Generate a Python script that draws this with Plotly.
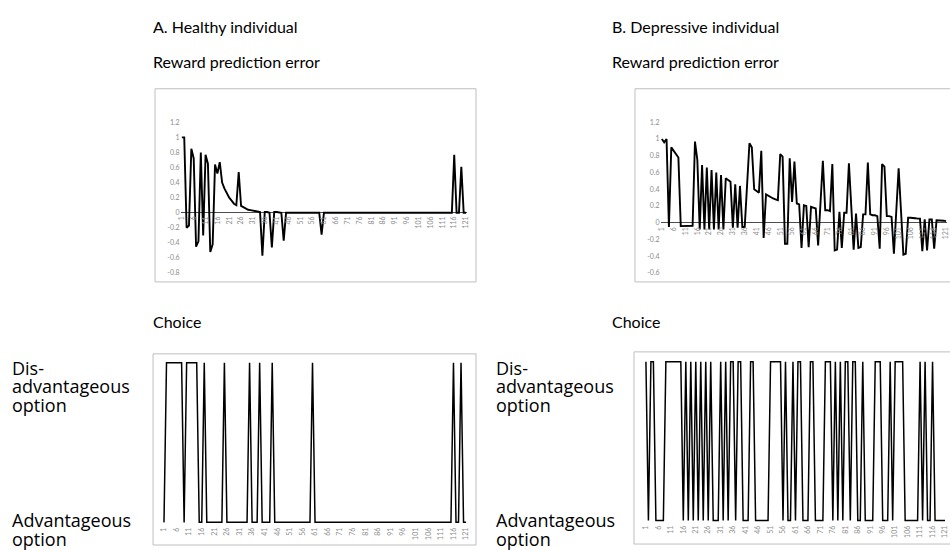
import plotly.graph_objects as go

W, H = 950, 550

trials = list(range(1, 122))
x_ticks = list(range(1, 122, 5))

healthy_rpe = [
    1.0, 1.0, -0.2, -0.17, 0.85, 0.72, -0.45, -0.38, 0.8, -0.3,
    0.77, 0.65, -0.52, -0.42, 0.64, 0.52, 0.67, 0.4, 0.32, 0.25,
    0.2, 0.16, 0.12, 0.1, 0.54, 0.09, 0.07, 0.05, 0.04, 0.035,
    0.03, 0.02, 0.015, 0.01, -0.57, 0.01, 0.01, 0.0, -0.46, 0.01,
    0.01, 0.01, 0.0, -0.37, 0.0, 0, 0, 0, 0, 0,
    0, 0, 0, 0, 0, 0, 0, 0, 0, -0.29,
    0, 0, 0, 0, 0, 0, 0, 0, 0, 0,
    0, 0, 0, 0, 0, 0, 0, 0, 0, 0,
    0, 0, 0, 0, 0, 0, 0, 0, 0, 0,
    0, 0, 0, 0, 0, 0, 0, 0, 0, 0,
    0, 0, 0, 0, 0, 0, 0, 0, 0, 0,
    0, 0, 0, 0, 0, 0.77, 0, 0, 0.61, 0,
    0,
][:121]

depressive_rpe = [
    1.0, 0.96, 1.0, -0.05, 0.9, 0.86, 0.82, 0.78, -0.04, -0.04,
    -0.04, -0.04, -0.04, -0.035, 0.97, 0.75, -0.08, 0.69, -0.08, 0.66,
    -0.08, 0.63, -0.08, 0.6, -0.08, 0.57, -0.08, 0.53, 0.51, 0.49,
    -0.06, 0.46, -0.06, 0.44, -0.05, -0.05, 0.45, 0.95, 0.9, 0.4,
    0.38, 0.36, 0.86, -0.18, 0.34, 0.32, 0.3, 0.29, 0.28, 0.27,
    0.82, 0.79, -0.25, -0.25, 0.77, 0.25, 0.73, 0.23, 0.22, -0.3,
    0.21, 0.2, -0.29, 0.19, 0.18, 0.17, -0.27, 0.2, 0.74, 0.15,
    0.15, 0.14, 0.7, -0.33, -0.32, 0.13, -0.3, 0.12, 0.12, 0.71,
    0.2, -0.32, 0.11, -0.3, -0.29, 0.1, 0.1, 0.72, 0.1, 0.09,
    0.09, 0.08, -0.31, 0.7, 0.67, 0.08, 0.08, 0.07, -0.37, 0.14,
    0.65, 0.14, -0.38, -0.37, 0.06, 0.06, 0.06, 0.055, 0.05, 0.05,
    -0.34, 0.04, -0.33, 0.04, 0.04, -0.31, 0.03, 0.03, 0.03, 0.025,
    0.02,
]

healthy_choice = [
    0, 1, 1, 1, 1, 1, 1, 1, 0, 1,
    1, 1, 1, 1, 0, 0, 1, 0, 0, 0,
    0, 0, 0, 0, 1, 0, 0, 0, 0, 0,
    0, 0, 0, 0, 1, 0, 0, 0, 1, 0,
    0, 0, 0, 1, 0, 0, 0, 0, 0, 0,
    0, 0, 0, 0, 0, 0, 0, 0, 0, 1,
    0, 0, 0, 0, 0, 0, 0, 0, 0, 0,
    0, 0, 0, 0, 0, 0, 0, 0, 0, 0,
    0, 0, 0, 0, 0, 0, 0, 0, 0, 0,
    0, 0, 0, 0, 0, 0, 0, 0, 0, 0,
    0, 0, 0, 0, 0, 0, 0, 0, 0, 0,
    0, 0, 0, 0, 0, 1, 0, 0, 1, 0,
    0,
][:121]

depressive_choice = [
    1, 0, 1, 1, 0, 0, 0, 0, 1, 1,
    1, 1, 1, 1, 1, 0, 1, 0, 1, 0,
    1, 0, 1, 0, 1, 0, 1, 0, 0, 0,
    1, 0, 1, 0, 1, 1, 0, 1, 1, 0,
    0, 0, 1, 1, 0, 0, 0, 0, 0, 0,
    1, 1, 1, 1, 1, 0, 1, 0, 0, 1,
    0, 1, 1, 0, 0, 0, 1, 1, 0, 0,
    0, 0, 1, 1, 1, 0, 1, 0, 1, 0,
    1, 1, 0, 1, 1, 0, 0, 1, 0, 0,
    0, 0, 1, 1, 1, 0, 0, 0, 1, 0,
    1, 1, 1, 1, 0, 0, 0, 0, 0, 0,
    1, 0, 1, 0, 0, 1, 0, 0, 0, 0,
    0,
]

rpe_a_ticks = [1.2, 1, 0.8, 0.6, 0.4, 0.2, 0, -0.2, -0.4, -0.6, -0.8]
rpe_b_ticks = [1.2, 1, 0.8, 0.6, 0.4, 0.2, 0, -0.2, -0.4, -0.6]


def fmt(v):
    s = f"{v:.1f}"
    if s.endswith(".0"):
        s = s[:-2]
    if s == "-0":
        s = "0"
    return s


def px(x):
    return x / W


def py(y):
    return 1 - y / H


def xdom(first_px, last_px):
    step = (last_px - first_px) / 120
    return [px(first_px - 0.5 * step), px(last_px + 0.5 * step)]


def ydom(top_px, bot_px, vtop, vbot, lo, hi):
    per = (bot_px - top_px) / (vtop - vbot)
    top = top_px - (hi - vtop) * per
    bot = bot_px + (vbot - lo) * per
    return [py(bot), py(top)]


fig = go.Figure()
line_rpe = dict(color="#000000", width=1.9)
line_ch = dict(color="#000000", width=1.5)

fig.add_trace(go.Scatter(x=trials, y=healthy_rpe, mode="lines", line=line_rpe, xaxis="x", yaxis="y", showlegend=False))
fig.add_trace(go.Scatter(x=trials, y=depressive_rpe, mode="lines", line=line_rpe, xaxis="x2", yaxis="y2", showlegend=False))
fig.add_trace(go.Scatter(x=trials, y=healthy_choice, mode="lines", line=line_ch, xaxis="x3", yaxis="y3", showlegend=False))
fig.add_trace(go.Scatter(x=trials, y=depressive_choice, mode="lines", line=line_ch, xaxis="x4", yaxis="y4", showlegend=False))

tickfont = dict(family="Lato, Open Sans, sans-serif", size=7, color="#8c8c8c")
xcommon = dict(range=[0.5, 121.5], tickmode="array", tickvals=x_ticks, ticktext=[str(t) for t in x_ticks],
               tickangle=-90, tickfont=tickfont, showgrid=False, zeroline=False, showline=False,
               ticks="", fixedrange=True)

ya_dom = ydom(119, 272, 1.2, -0.8, -0.8, 1.2)
yb_dom = ydom(119, 272, 1.2, -0.6, -0.6, 1.2)
yc_dom = ydom(363, 525, 1, 0, -0.05, 1.05)
yd_dom = ydom(362, 523, 1, 0, -0.05, 1.05)

ycommon = dict(showgrid=False, showline=False, ticks="", fixedrange=True,
               tickfont=tickfont, zeroline=True, zerolinecolor="#4d4d4d", zerolinewidth=1)

fig.update_layout(
    width=W, height=H,
    margin=dict(l=0, r=0, t=0, b=0),
    paper_bgcolor="white", plot_bgcolor="rgba(0,0,0,0)",
    xaxis=dict(xcommon, domain=xdom(179, 465), anchor="free", position=py(212)),
    yaxis=dict(ycommon, domain=ya_dom, range=[-0.8, 1.2], tickmode="array",
               tickvals=rpe_a_ticks, ticktext=[fmt(v) for v in rpe_a_ticks], anchor="x"),
    xaxis2=dict(xcommon, domain=xdom(662, 948), anchor="free", position=py(223)),
    yaxis2=dict(ycommon, domain=yb_dom, range=[-0.6, 1.2], tickmode="array",
                tickvals=rpe_b_ticks, ticktext=[fmt(v) for v in rpe_b_ticks], anchor="x2"),
    xaxis3=dict(xcommon, domain=xdom(161, 465), anchor="free", position=py(528)),
    yaxis3=dict(showgrid=False, showline=False, ticks="", showticklabels=False, zeroline=False,
                domain=yc_dom, range=[-0.05, 1.05], anchor="x3", fixedrange=True),
    xaxis4=dict(xcommon, domain=xdom(646, 947), anchor="free", position=py(526)),
    yaxis4=dict(showgrid=False, showline=False, ticks="", showticklabels=False, zeroline=False,
                domain=yd_dom, range=[-0.05, 1.05], anchor="x4", fixedrange=True),
)

box_line = dict(color="#bfbfbf", width=1)
for (x0, y0, x1, y1) in [(152, 85, 475, 281), (635, 85, 956, 281), (150, 354, 475, 548), (634, 352, 956, 547)]:
    fig.add_shape(type="rect", xref="paper", yref="paper", x0=px(x0), x1=px(x1), y0=py(y1), y1=py(y0),
                  line=box_line, fillcolor="rgba(0,0,0,0)", layer="below")

title_font = dict(family="Lato, sans-serif", size=16, color="#000000")
label_font = dict(family="Open Sans, sans-serif", size=18, color="#000000")


def ann(text, x, y, font):
    fig.add_annotation(text=text, x=px(x), y=py(y), xref="paper", yref="paper",
                       xanchor="left", yanchor="middle", showarrow=False, font=font)


for xo, head in [(148, "A. Healthy individual"), (610, "B. Depressive individual")]:
    ann(head, xo, 22, title_font)
    ann("Reward prediction error", xo, 57, title_font)
    ann("Choice", xo, 321, title_font)

for xo in [6, 493]:
    ann("Dis-", xo, 368, label_font)
    ann("advantageous", xo, 387, label_font)
    ann("option", xo, 406, label_font)
    ann("Advantageous", xo, 523, label_font)
    ann("option", xo, 542, label_font)

fig.write_html("out.html", post_script="document.body.style.margin='0';",
               config={"displayModeBar": False})
